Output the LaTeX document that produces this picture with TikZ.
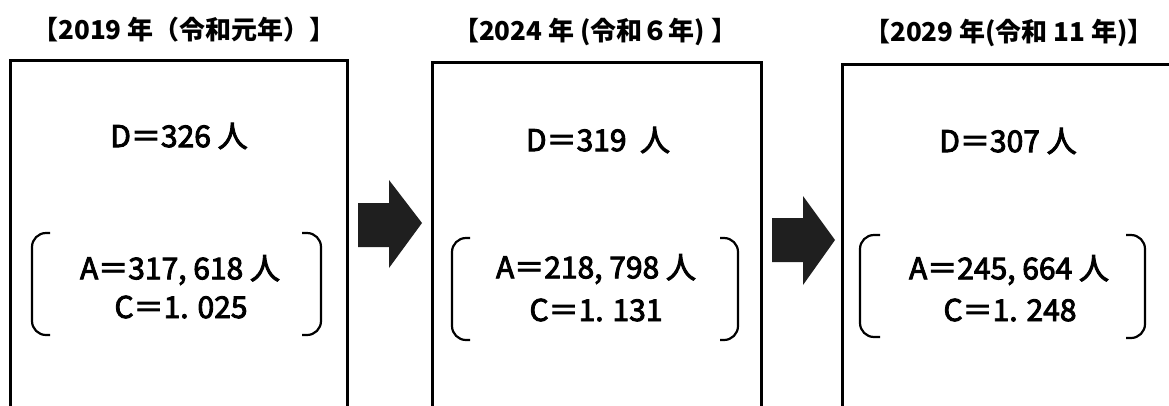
\documentclass[tikz,border=0pt]{standalone}
\usepackage{fontspec}
\setmainfont{Noto Sans CJK JP}
\newfontfamily\bodyfont[FakeBold=3]{Noto Sans CJK JP}
\begin{document}
\begin{tikzpicture}[x=1pt,y=-1pt,
  box/.style={draw=black,line width=3pt,minimum height=380pt,inner sep=0pt},
  ttl/.style={font=\fontsize{26}{28}\selectfont\bfseries,inner sep=0pt},
  dtxt/.style={font=\fontsize{30}{32}\bodyfont,inner sep=0pt},
  atxt/.style={font=\fontsize{30}{32}\bodyfont,inner sep=0pt},
  paren/.style={line width=2.2pt,rounded corners=14pt},
  blockarrow/.style={fill=black!88,draw=none}]
\useasboundingbox (0,0) rectangle (1169,405);
\clip (0,0) rectangle (1169,405);
% boxes
\node[box,minimum width=337pt] (b1) at (178.5,250) {};
\node[box,minimum width=329pt] (b2) at (596.5,252) {};
\node[box,minimum width=345pt] (b3) at (1014.5,254) {};
% titles
\node[ttl] (t1) at (184,30) {【2019 年（令和元年）】};
\node[ttl] (t2) at (595,32) {【2024 年 (令和６年) 】};
\node[ttl] (t3) at (1009,33) {【2029 年(令和 11 年)】};
% D
\node[dtxt] (d1) at (179,136) {D＝326 人};
\node[dtxt] (d2) at (598,140) {D＝319\ \ 人};
\node[dtxt] (d3) at (1008,141) {D＝307 人};
% A, C
\node[atxt] (a1) at (180,270) {A＝317, 618 人};
\node[atxt] (c1) at (181,307) {C＝1. 025};
\node[atxt] (a2) at (596,269) {A＝218, 798 人};
\node[atxt] (c2) at (596,310) {C＝1. 131};
\node[atxt] (a3) at (1009,270) {A＝245, 664 人};
\node[atxt] (c3) at (1010,310) {C＝1. 248};
% parentheses
\draw[paren] (50,233) -- (32,233) -- (32,335) -- (50,335);
\draw[paren] (302,233) -- (321,233) -- (321,335) -- (302,335);
\draw[paren] (470,238) -- (452,238) -- (452,340) -- (470,340);
\draw[paren] (720,238) -- (738,238) -- (738,340) -- (720,340);
\draw[paren] (880,235) -- (860,235) -- (860,337) -- (880,337);
\draw[paren] (1126,235) -- (1145,235) -- (1145,338) -- (1126,338);
% block arrows
\fill[blockarrow] (358,203) -- (389,203) -- (389,180) -- (422,223) -- (389,268) -- (389,247) -- (358,247) -- cycle;
\fill[blockarrow] (772,218) -- (803,218) -- (803,196) -- (835,240) -- (803,285) -- (803,262) -- (772,262) -- cycle;
\end{tikzpicture}
\end{document}
